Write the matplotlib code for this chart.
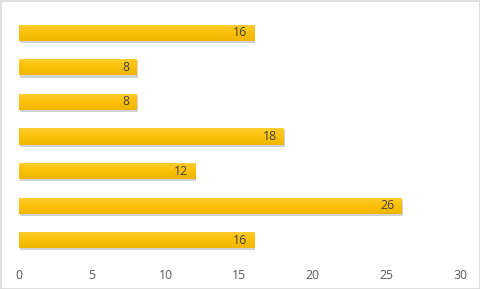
import numpy as np
import matplotlib.pyplot as plt
import matplotlib.patheffects as pe
from matplotlib.colors import LinearSegmentedColormap

# bottom to top
categories = ['A', 'B', 'C', 'D', 'E', 'F', 'G']
values = [16, 26, 12, 18, 8, 8, 16]
xticks = [0, 5, 10, 15, 20, 25, 30]

plt.rcParams['font.family'] = ['Open Sans', 'DejaVu Sans']

fig = plt.figure(figsize=(4.81, 2.89), dpi=100)
ax = fig.add_axes([18.5 / 481, 1 - 257.5 / 289, (460 - 18.5) / 481, (257.5 - 15.5) / 289])

y = np.arange(len(categories))
bars = ax.barh(y, values, height=0.47, color='#fcc10a', zorder=2,
               path_effects=[pe.SimplePatchShadow(offset=(1, -1.5), shadow_rgbFace='#808080', alpha=0.35),
                             pe.Normal()])

# vertical gradient on each bar
cmap = LinearSegmentedColormap.from_list('gold', ['#efb500', '#fcc109', '#ffcc33'])
grad = np.linspace(0, 1, 64).reshape(-1, 1)
for b in bars:
    x0, y0, w, h = b.get_x(), b.get_y(), b.get_width(), b.get_height()
    im = ax.imshow(grad, cmap=cmap, origin='lower', aspect='auto',
                   extent=[x0, x0 + w, y0, y0 + h], zorder=3)
    im.set_clip_path(b)

for b, v in zip(bars, values):
    ax.text(b.get_width() - 0.45, b.get_y() + b.get_height() / 2, str(v),
            ha='right', va='center', fontsize=8.8, color='#404040', zorder=4)

ax.set_xlim(0, 30)
ax.set_ylim(-0.5, len(categories) - 0.5)
ax.set_xticks(xticks)
ax.set_yticks([])
ax.tick_params(axis='x', length=0, pad=8, labelsize=8.8, labelcolor='#595959')
for s in ax.spines.values():
    s.set_visible(False)

fig.patches.append(plt.Rectangle((0.5 / 481, 0.5 / 289), 1 - 1 / 481, 1 - 1 / 289,
                                 transform=fig.transFigure, fill=False,
                                 edgecolor='#d9d9d9', linewidth=1.2))

fig.savefig('out.png', dpi=100)
